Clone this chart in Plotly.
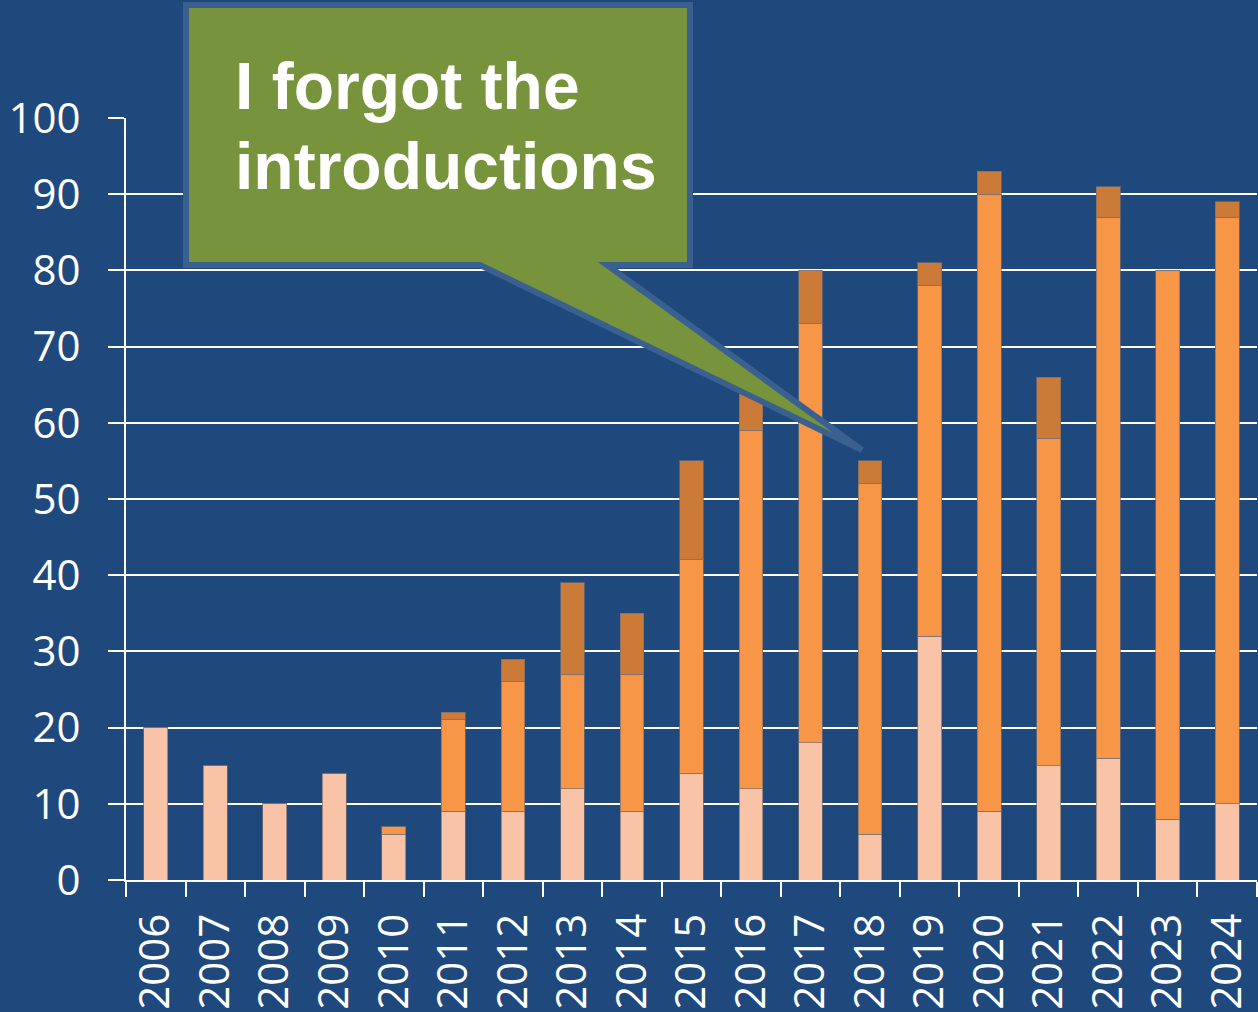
import plotly.graph_objects as go

years = [str(y) for y in range(2006, 2025)]
base = [20, 15, 10, 14, 6, 9, 9, 12, 9, 14, 12, 18, 6, 32, 9, 15, 16, 8, 10]
middle = [0, 0, 0, 0, 1, 12, 17, 15, 18, 28, 47, 55, 46, 46, 81, 43, 71, 72, 77]
top = [0, 0, 0, 0, 0, 1, 3, 12, 8, 13, 6, 7, 3, 3, 3, 8, 4, 0, 2]
y_ticks = [0, 10, 20, 30, 40, 50, 60, 70, 80, 90, 100]
callout_lines = ["I forgot the", "introductions"]

BG = "#1F497D"
colors = ["#F9C3A7", "#F79646", "#CC7A38"]
outline = dict(color="rgba(120,110,110,0.7)", width=1)

W, H = 1258, 1012
ML, MR, MT, MB = 126, 1, 118, 132
PW, PH = W - ML - MR, H - MT - MB

def px(x):
    return (x - ML) / PW

def py(y):
    return (H - MB - y) / PH

fig = go.Figure()
for vals, c in zip([base, middle, top], colors):
    fig.add_trace(go.Bar(x=years, y=vals, marker=dict(color=c, line=outline),
                         showlegend=False, hoverinfo="skip"))

fig.update_layout(
    width=W, height=H, barmode="stack", bargap=0.6,
    paper_bgcolor=BG, plot_bgcolor=BG,
    margin=dict(l=ML, r=MR, t=MT, b=MB, pad=0),
    font=dict(family="Open Sans", color="white", size=42),
)
fig.update_yaxes(range=[0, 100], tickvals=y_ticks, showgrid=True, gridcolor="white",
                 gridwidth=2, showline=True, linecolor="white", linewidth=2,
                 ticks="outside", ticklen=16, tickcolor="white", tickwidth=2,
                 tickfont=dict(size=42, family="Open Sans"), zeroline=False,
                 ticklabelstandoff=19)
fig.update_xaxes(type="category", showline=True, linecolor="white", linewidth=2,
                 ticks="outside", ticklen=15, tickcolor="white", tickwidth=2,
                 tickson="boundaries", tickangle=-90, showgrid=False,
                 tickfont=dict(size=42, family="Open Sans"), ticklabelstandoff=15)

# callout shape
pts = [(186, 5), (690, 5), (690, 265), (607, 265), (862, 450), (480, 265), (186, 265)]
path = "M " + " L ".join(f"{px(x)},{py(y)}" for x, y in pts) + " Z"
fig.add_shape(type="path", path=path, xref="paper", yref="paper",
              fillcolor="#77933C", line=dict(color="#3A6090", width=6), layer="above")

for i, line in enumerate(callout_lines):
    fig.add_annotation(x=px(233), y=py(86 + i * 80), xref="paper", yref="paper",
                       text=f"<b>{line}</b>", showarrow=False, xanchor="left",
                       yanchor="middle",
                       font=dict(family="Liberation Sans", size=66, color="white"))

fig.write_html("out.html", config={"displayModeBar": False},
               post_script="document.body.style.margin='0';document.body.style.background='#1F497D';")
